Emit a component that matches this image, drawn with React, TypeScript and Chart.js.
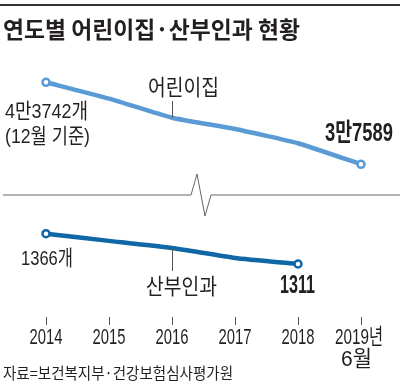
import React, { useEffect, useRef } from "react";
import { Chart, registerables } from "chart.js";

Chart.register(...registerables);

const categories = ["2014", "2015", "2016", "2017", "2018", "2019년|6월"];
const daycareValues = [43742, 42517, 41084, 40238, 39171, 37589];
const obstetricsValues = [1366, 1353, 1340, 1322, 1311, null];
const daycareLabels = ["4만3742개", "(12월 기준)", "3만7589", "어린이집"];
const obstetricsLabels = ["1366개", "1311", "산부인과"];
const titleText = "연도별 어린이집·산부인과 현황";
const sourceText = "자료=보건복지부·건강보험심사평가원";

const LIGHT = "#5b9bd5";
const DARK = "#0f67a5";
const TEXT = "#231f20";
const LAT = "'Liberation Sans', 'Noto Sans CJK KR', sans-serif";
const KR = "'Noto Sans CJK KR', sans-serif";

function fitText(
  ctx: CanvasRenderingContext2D,
  text: string,
  font: string,
  x: number,
  cy: number,
  width: number,
  align: "left" | "center" | "right",
  color = TEXT
) {
  ctx.save();
  ctx.font = font;
  ctx.fillStyle = color;
  ctx.textBaseline = "middle";
  ctx.textAlign = "left";
  const w = ctx.measureText(text).width;
  const sx = width / w;
  const left = align === "left" ? x : align === "center" ? x - width / 2 : x - width;
  ctx.translate(left, cy);
  ctx.scale(sx, 1);
  ctx.fillText(text, 0, 0);
  ctx.restore();
}

const decorPlugin = {
  id: "decor",
  afterDraw(chart: any) {
    const ctx: CanvasRenderingContext2D = chart.ctx;
    const up = chart.getDatasetMeta(0).data;
    const lo = chart.getDatasetMeta(1).data;
    const xs = chart.scales.x;

    // top rule
    ctx.save();
    ctx.fillStyle = "#333";
    ctx.fillRect(0, 4, 400, 2);
    ctx.restore();

    // title
    fitText(ctx, titleText, `bold 23px ${KR}`, 3, 29, 297, "left");

    // break line
    ctx.save();
    ctx.strokeStyle = "#666";
    ctx.lineWidth = 1;
    ctx.beginPath();
    ctx.moveTo(3, 195);
    ctx.lineTo(191, 195);
    ctx.lineTo(197, 174);
    ctx.lineTo(205, 216);
    ctx.lineTo(211, 195);
    ctx.lineTo(400, 195);
    ctx.stroke();
    ctx.restore();

    // leader lines
    ctx.save();
    ctx.strokeStyle = "#555";
    ctx.lineWidth = 1;
    ctx.beginPath();
    ctx.moveTo(Math.round(up[2].x) + 0.5, 101);
    ctx.lineTo(Math.round(up[2].x) + 0.5, up[2].y);
    ctx.moveTo(Math.round(lo[2].x) + 0.5, lo[2].y);
    ctx.lineTo(Math.round(lo[2].x) + 0.5, 271);
    ctx.stroke();
    ctx.restore();

    // daycare labels
    fitText(ctx, daycareLabels[0], `21px ${LAT}`, up[0].x - 41, up[0].y + 30, 83, "left");
    fitText(ctx, daycareLabels[1], `21px ${LAT}`, up[0].x - 41, up[0].y + 55, 85, "left");
    fitText(ctx, daycareLabels[2], `bold 25px ${LAT}`, up[5].x + 32, up[5].y - 30, 68, "right");
    fitText(ctx, daycareLabels[3], `22px ${KR}`, up[2].x - 24, 87, 71, "left");

    // obstetrics labels
    fitText(ctx, obstetricsLabels[0], `21px ${LAT}`, lo[0].x - 25, lo[0].y + 26, 52, "left");
    fitText(ctx, obstetricsLabels[1], `bold 25px ${LAT}`, lo[4].x - 0.5, lo[4].y + 22, 35, "center");
    fitText(ctx, obstetricsLabels[2], `22px ${KR}`, lo[2].x - 26, lo[2].y + 38, 71, "left");

    // x tick labels
    categories.forEach((c, i) => {
      const px = xs.getPixelForTick(i);
      const parts = c.split("|");
      if (parts.length === 1) {
        fitText(ctx, parts[0], `22px ${LAT}`, px, 338, 33, "center");
      } else {
        fitText(ctx, parts[0], `22px ${LAT}`, px - 2, 338, 48, "center");
        fitText(ctx, parts[1], `22px ${LAT}`, px - 4.5, 359.5, 31, "center");
      }
    });

    // source
    fitText(ctx, sourceText, `16px ${KR}`, 3, 373, 230, "left");
  },
};

export default function App() {
  const ref = useRef<HTMLCanvasElement | null>(null);

  useEffect(() => {
    document.body.style.margin = "0";
    if (!ref.current) return;
    const chart = new Chart(ref.current, {
      type: "line",
      data: {
        labels: categories,
        datasets: [
          {
            data: daycareValues,
            yAxisID: "y",
            borderColor: LIGHT,
            backgroundColor: "#fff",
            borderWidth: 4.5,
            pointRadius: [3.5, 0, 0, 0, 0, 3.5],
            pointBorderWidth: 2.5,
            pointBorderColor: LIGHT,
            pointBackgroundColor: "#fff",
            tension: 0.15,
          },
          {
            data: obstetricsValues,
            yAxisID: "y2",
            borderColor: DARK,
            backgroundColor: "#fff",
            borderWidth: 4.5,
            pointRadius: [3.5, 0, 0, 0, 3.5, 0],
            pointBorderWidth: 2.5,
            pointBorderColor: DARK,
            pointBackgroundColor: "#fff",
            tension: 0.15,
          },
        ],
      },
      options: {
        responsive: false,
        animation: false,
        devicePixelRatio: 1,
        layout: { padding: { left: 46, right: 39, top: 60, bottom: 56 } },
        plugins: { legend: { display: false }, tooltip: { enabled: false } },
        scales: {
          x: {
            offset: false,
            border: { display: false },
            grid: { drawOnChartArea: false, drawTicks: true, tickLength: 8, color: "#555" },
            ticks: { display: false },
          },
          y: { display: false, min: 26131, max: 45415 },
          y2: { display: false, min: 1214.8, max: 1681.3 },
        },
      },
      plugins: [decorPlugin],
    });
    return () => chart.destroy();
  }, []);

  return (
    <div style={{ width: 400, height: 381, background: "#fff" }}>
      <canvas ref={ref} width={400} height={381} />
    </div>
  );
}
